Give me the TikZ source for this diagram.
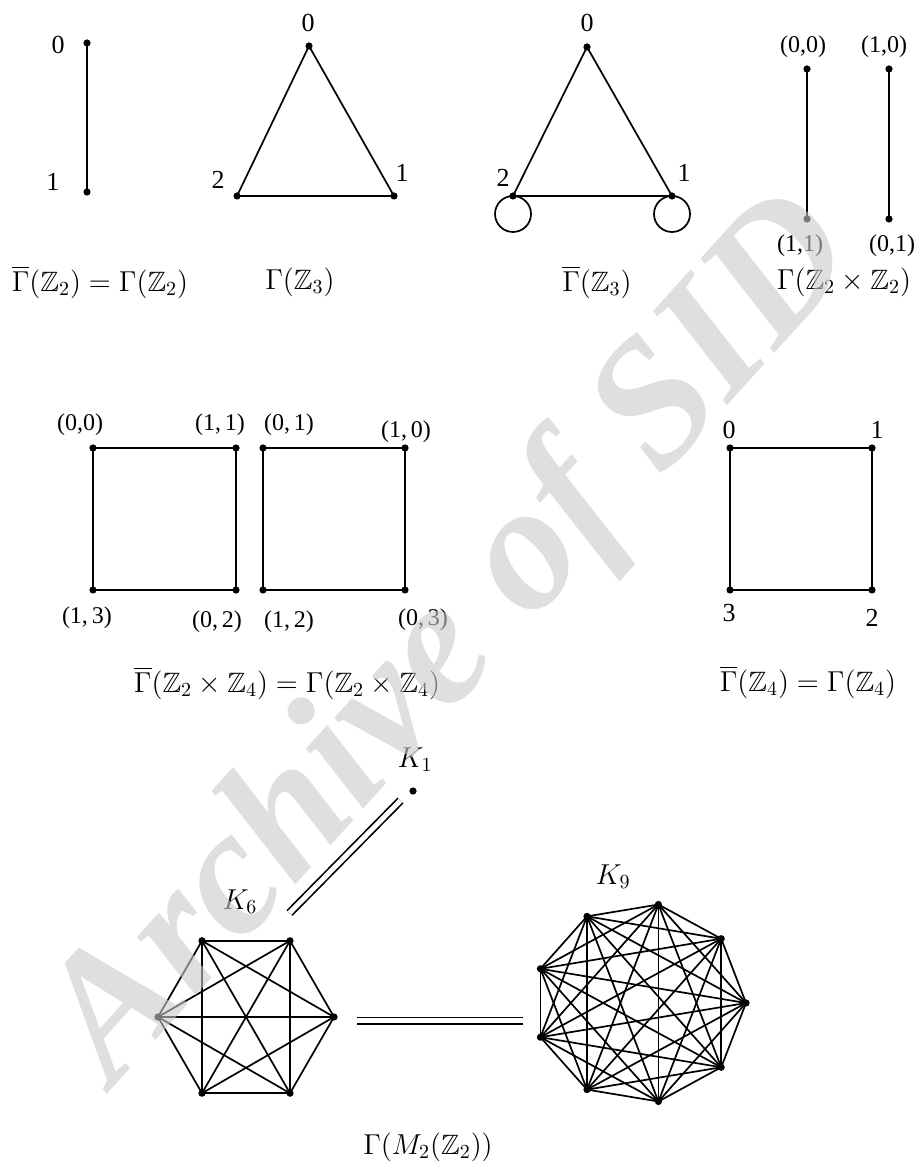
\documentclass[tikz,border=0pt]{standalone}
\usepackage{amsmath,amssymb}
\usepackage{fontspec}
\setmainfont{Liberation Serif}

\begin{document}
\begin{tikzpicture}[x=50pt, y=50pt, line width=0.85pt,
    every node/.style={font=\fontsize{13}{15}\selectfont},
    tup/.style={font=\fontsize{12}{14}\selectfont},
    captxt/.style={font=\fontsize{14}{16}\selectfont},
    pair/.style={double, double distance=2.5pt}]
  \useasboundingbox (0,0) rectangle (9.16,11.72);

  % Gamma(Z_2)
  \coordinate (a0) at (0.87,11.29);
  \coordinate (a1) at (0.87,9.80);
  \draw (a0) -- (a1);
  \node (la0) at (0.58,11.27) {0};
  \node (la1) at (0.53,9.90) {1};

  % Gamma(Z_3)
  \coordinate (b0) at (3.09,11.26);
  \coordinate (b1) at (3.94,9.76);
  \coordinate (b2) at (2.37,9.76);
  \draw (b0) -- (b1) -- (b2) -- cycle;
  \node (lb0) at (3.08,11.49) {0};
  \node (lb1) at (4.02,9.99) {1};
  \node (lb2) at (2.18,9.92) {2};

  % bar Gamma(Z_3), with loops
  \coordinate (c0) at (5.87,11.25);
  \coordinate (c1) at (6.72,9.76);
  \coordinate (c2) at (5.13,9.76);
  \draw (c0) -- (c1) -- (c2) -- cycle;
  \draw (c2) arc[start angle=90, end angle=450, radius=0.18];
  \draw (c1) arc[start angle=90, end angle=450, radius=0.18];
  \node (lc0) at (5.87,11.49) {0};
  \node (lc1) at (6.84,9.99) {1};
  \node (lc2) at (5.03,9.94) {2};

  % Gamma(Z_2 x Z_2)
  \coordinate (d00) at (8.07,11.03);
  \coordinate (d11) at (8.07,9.53);
  \coordinate (d10) at (8.89,11.03);
  \coordinate (d01) at (8.89,9.53);
  \draw (d00) -- (d11);
  \draw (d10) -- (d01);
  \node[tup] (ld00) at (8.03,11.25) {(0,0)};
  \node[tup] (ld10) at (8.84,11.25) {(1,0)};
  \node[tup] (ld11) at (8.00,9.26) {(1,1)};
  \node[tup] (ld01) at (8.92,9.26) {(0,1)};

  \foreach \p in {a0,a1,b0,b1,b2,c0,c1,c2,d00,d11,d10,d01}
    \fill (\p) circle (1.8pt);

  \node[captxt] (cap1) at (1.00,8.90) {$\overline{\Gamma}(\mathbb{Z}_2)=\Gamma(\mathbb{Z}_2)$};
  \node[captxt] (cap2) at (3.00,8.90) {$\Gamma(\mathbb{Z}_3)$};
  \node[captxt] (cap3) at (5.97,8.90) {$\overline{\Gamma}(\mathbb{Z}_3)$};
  \node[captxt] (cap4) at (8.44,8.90) {$\Gamma(\mathbb{Z}_2\times\mathbb{Z}_2)$};

  % Gamma(Z_2 x Z_4)
  \coordinate (e00) at (0.93,7.24);
  \coordinate (e11) at (2.36,7.24);
  \coordinate (e02) at (2.36,5.82);
  \coordinate (e13) at (0.93,5.82);
  \draw (e00) -- (e11) -- (e02) -- (e13) -- cycle;
  \coordinate (f01) at (2.63,7.24);
  \coordinate (f10) at (4.05,7.24);
  \coordinate (f03) at (4.05,5.82);
  \coordinate (f12) at (2.63,5.82);
  \draw (f01) -- (f10) -- (f03) -- (f12) -- cycle;
  \node[tup] (le00) at (0.80,7.47) {(0,0)};
  \node[tup] (le11) at (2.20,7.47) {(1,\,1)};
  \node[tup] (le13) at (0.87,5.54) {(1,\,3)};
  \node[tup] (le02) at (2.17,5.50) {(0,\,2)};
  \node[tup] (lf01) at (2.89,7.47) {(0,\,1)};
  \node[tup] (lf10) at (4.06,7.40) {(1,\,0)};
  \node[tup] (lf12) at (2.89,5.50) {(1,\,2)};
  \node[tup] (lf03) at (4.23,5.52) {(0,\,3)};

  % Gamma(Z_4)
  \coordinate (g0) at (7.30,7.24);
  \coordinate (g1) at (8.72,7.24);
  \coordinate (g2) at (8.72,5.82);
  \coordinate (g3) at (7.30,5.82);
  \draw (g0) -- (g1) -- (g2) -- (g3) -- cycle;
  \node (lg0) at (7.29,7.42) {0};
  \node (lg1) at (8.77,7.42) {1};
  \node (lg2) at (8.72,5.54) {2};
  \node (lg3) at (7.29,5.59) {3};

  \foreach \p in {e00,e11,e02,e13,f01,f10,f03,f12,g0,g1,g2,g3}
    \fill (\p) circle (1.8pt);

  \node[captxt] (cap5) at (2.87,4.89) {$\overline{\Gamma}(\mathbb{Z}_2\times\mathbb{Z}_4)=\Gamma(\mathbb{Z}_2\times\mathbb{Z}_4)$};
  \node[captxt] (cap6) at (8.08,4.90) {$\overline{\Gamma}(\mathbb{Z}_4)=\Gamma(\mathbb{Z}_4)$};

  % Gamma(M_2(Z_2))
  \coordinate (k1) at (4.13,3.81);
  \fill (k1) circle (1.8pt);
  \node[captxt] (lk1) at (4.15,4.12) {$K_1$};

  \foreach \a [count=\i] in {0,60,...,300}
    \coordinate (h\i) at ([shift={(2.46,1.55)}]\a:0.88);
  \foreach \i in {1,...,5} {
    \pgfmathtruncatemacro\k{\i+1}
    \foreach \j in {\k,...,6}
      \draw (h\i) -- (h\j);
  }
  \foreach \i in {1,...,6}
    \fill (h\i) circle (1.8pt);
  \node[captxt] (lk6) at (2.40,2.70) {$K_6$};

  \foreach \a [count=\i] in {0,40,...,320}
    \coordinate (n\i) at ({6.40+1.06*cos(\a)},{1.69+1.00*sin(\a)});
  \foreach \i in {1,...,8} {
    \pgfmathtruncatemacro\k{\i+1}
    \foreach \j in {\k,...,9}
      \draw (n\i) -- (n\j);
  }
  \foreach \i in {1,...,9}
    \fill (n\i) circle (1.8pt);
  \node[captxt] (lk9) at (6.13,2.95) {$K_9$};

  \coordinate (s1) at (2.895,2.59);
  \coordinate (s2) at (4.005,3.715);
  \draw[pair] (s1) -- (s2);
  \coordinate (t1) at (3.57,1.51);
  \coordinate (t2) at (5.23,1.51);
  \draw[pair] (t1) -- (t2);

  \node[captxt] (cap7) at (4.28,0.25) {$\Gamma(M_2(\mathbb{Z}_2))$};

  % watermark
  \node[rotate=48, text=black!21, text opacity=0.6,
    font=\fontsize{90}{96}\selectfont\bfseries\itshape] (wm) at (4.55,5.30) {Archive of SID};
\end{tikzpicture}
\end{document}
